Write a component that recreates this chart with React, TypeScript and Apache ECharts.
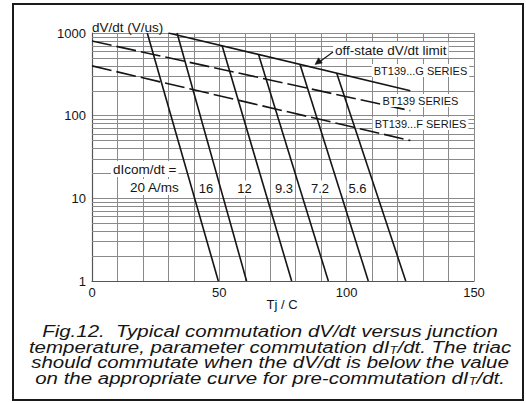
import React, { useEffect, useRef } from 'react';
import * as echarts from 'echarts';

// ---- data ----
const xTickLabels = [0, 50, 100, 150];
const yTickLabels = [1, 10, 100, 1000];
const minorGridValues = [2, 3, 4, 5, 6, 7, 8, 9, 20, 30, 40, 50, 60, 70, 80, 90, 200, 300, 400, 500, 600, 700, 800, 900];

// off-state dV/dt limit (BT139...G SERIES)
const offStateLimit = [[30, 1000], [125, 200]];
// BT139 SERIES (dashed)
const bt139Series = [[0, 800], [125, 115]];
// BT139...F SERIES (dashed)
const bt139FSeries = [[0, 400], [125, 50]];

// dIcom/dt curves
const dIcomNames = ['20 A/ms', '16', '12', '9.3', '7.2', '5.6'];
const dIcomTopTemp = [21.7, 33.4, 51.1, 65.4, 81.7, 96.1];
const dIcomTopDvdt = [1000, 1000, 700, 549, 416, 326];
const dIcomBottomTemp = [49.6, 60.7, 78.4, 92.8, 108.5, 123.2];
const dIcomBottomDvdt = [1, 1, 1, 1, 1, 1];

const FONT = '"Liberation Sans", Arial, Helvetica, sans-serif';
const INK = '#151515';
const GRID = '#8a8a8a';

export default function App() {
  const ref = useRef<HTMLDivElement>(null);

  useEffect(() => {
    if (!ref.current) return;
    const chart = echarts.init(ref.current, null, { renderer: 'svg' });

    const curveStyle = { color: INK, width: 1.6 };

    const series: any[] = [
      {
        type: 'line',
        data: [],
        silent: true,
        z: 1,
        markLine: {
          silent: true,
          symbol: ['none', 'none'],
          label: { show: false },
          lineStyle: { color: GRID, width: 1, type: 'solid' },
          emphasis: { disabled: true },
          data: minorGridValues.map((v) => ({ yAxis: v })),
        },
      },
      {
        name: 'off-state dV/dt limit',
        type: 'line',
        data: offStateLimit,
        symbol: 'none',
        z: 5,
        lineStyle: curveStyle,
      },
      {
        name: 'BT139 SERIES',
        type: 'line',
        data: bt139Series,
        symbol: 'none',
        z: 5,
        lineStyle: { ...curveStyle, type: [20, 5] },
      },
      {
        name: 'BT139...F SERIES',
        type: 'line',
        data: bt139FSeries,
        symbol: 'none',
        z: 5,
        lineStyle: { ...curveStyle, type: [20, 5] },
      },
      ...dIcomNames.map((n, i) => ({
        name: n,
        type: 'line',
        data: [
          [dIcomTopTemp[i], dIcomTopDvdt[i]],
          [dIcomBottomTemp[i], dIcomBottomDvdt[i]],
        ],
        symbol: 'none',
        z: 5,
        lineStyle: curveStyle,
      })),
    ];

    const txt = (text: string, x: number, y: number, size: number, align: string, bg = true, extra: any = {}) => ({
      type: 'text',
      z: 100,
      x,
      y,
      style: {
        text,
        x: 0,
        y: 0,
        fill: INK,
        font: `${size}px ${FONT}`,
        fontSize: size,
        fontFamily: FONT,
        textAlign: align,
        textVerticalAlign: 'middle',
        backgroundColor: bg ? '#ffffff' : 'transparent',
        padding: bg ? [1, 2, 1, 2] : 0,
        ...extra,
      },
    });

    const captionRich = {
      s: { fontSize: 10, lineHeight: 6, verticalAlign: 'bottom', fontStyle: 'italic', fontFamily: FONT, fill: INK },
    };
    const cap = (text: string, y: number) => ({
      type: 'text',
      z: 100,
      x: 270,
      y,
      scaleX: 1.28,
      style: {
        text,
        x: 0,
        y: 0,
        fill: INK,
        fontSize: 16,
        fontStyle: 'italic',
        fontFamily: FONT,
        lineHeight: 16,
        textAlign: 'center',
        textVerticalAlign: 'middle',
        rich: captionRich,
      },
    });

    const option: any = {
      animation: false,
      backgroundColor: '#ffffff',
      grid: { left: 92, right: 52, top: 33, bottom: 122, show: false },
      xAxis: {
        type: 'value',
        min: 0,
        max: 150,
        interval: 10,
        axisLine: { show: true, lineStyle: { color: '#555', width: 1.2 } },
        axisTick: { show: false },
        splitLine: { show: true, lineStyle: { color: GRID, width: 1 } },
        axisLabel: {
          formatter: (v: number) => (xTickLabels.includes(v) ? String(v) : ''),
          color: INK,
          fontSize: 13,
          fontFamily: FONT,
          margin: 5,
          showMinLabel: true,
          showMaxLabel: true,
        },
      },
      yAxis: {
        type: 'log',
        logBase: 10,
        min: 1,
        max: 1000,
        axisLine: { show: true, lineStyle: { color: '#555', width: 1.2 } },
        axisTick: { show: false },
        splitLine: { show: true, lineStyle: { color: GRID, width: 1 } },
        axisLabel: {
          formatter: (v: number) => {
            const r = Math.round(v);
            return yTickLabels.includes(r) ? String(r) : '';
          },
          color: INK,
          fontSize: 13,
          fontFamily: FONT,
          margin: 6,
        },
      },
      series,
      graphic: [
        {
          type: 'rect',
          z: 90,
          shape: { x: 13, y: 4, width: 510, height: 396 },
          style: { fill: 'none', stroke: '#1a1a1a', lineWidth: 2 },
        },
        txt('dV/dt (V/us)', 92, 27, 13.5, 'left', false),
        txt('Tj / C', 282, 304, 13, 'center', false),
        txt('dIcom/dt =', 111, 169, 13.5, 'left'),
        txt('20 A/ms', 128, 187, 13.5, 'left'),
        txt('16', 206, 188, 13, 'center'),
        txt('12', 244.5, 188, 13, 'center'),
        txt('9.3', 284, 188, 13, 'center'),
        txt('7.2', 320, 188, 13, 'center'),
        txt('5.6', 357.5, 188, 13, 'center'),
        txt('off-state dV/dt limit', 333, 50, 13.5, 'left'),
        txt('BT139...G SERIES', 420.5, 70.5, 11, 'center'),
        txt('BT139 SERIES', 420.5, 100.5, 11, 'center'),
        txt('BT139...F SERIES', 420.5, 123.5, 11, 'center'),
        {
          type: 'line',
          z: 100,
          shape: { x1: 333, y1: 52, x2: 320, y2: 61.5 },
          style: { stroke: INK, lineWidth: 1.2 },
        },
        {
          type: 'polygon',
          z: 100,
          shape: { points: [[315, 64.5], [318.5, 57.8], [322.3, 63]] },
          style: { fill: INK, stroke: INK, lineWidth: 0.5 },
        },
        cap('Fig.12.  Typical commutation dV/dt versus junction', 331.5),
        cap('temperature, parameter commutation dI{s|T}/dt. The triac', 347.2),
        cap('should commutate when the dV/dt is below the value', 362.8),
        cap('on the appropriate curve for pre-commutation dI{s|T}/dt.', 378.4),
      ],
    };

    chart.setOption(option);
    return () => chart.dispose();
  }, []);

  return (
    <div
      ref={ref}
      style={{ position: 'fixed', left: 0, top: 0, width: 526, height: 403, background: '#fff' }}
    />
  );
}
